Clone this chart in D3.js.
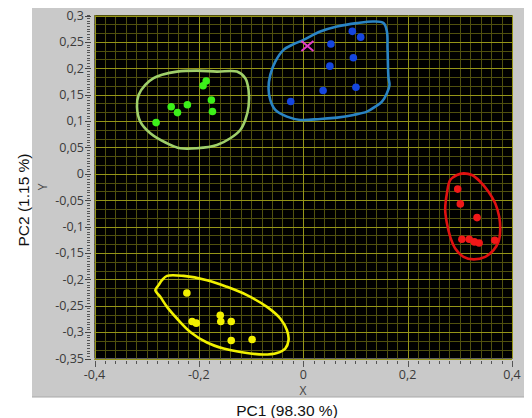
<!DOCTYPE html>
<html><head><meta charset="utf-8">
<script src="https://cdn.jsdelivr.net/npm/d3@7"></script>
<style>html,body{margin:0;padding:0;background:#fff;}svg{display:block;}</style>
</head><body>
<svg id="c" width="532" height="418"></svg>
<script>
// ---- data ----
const xTickValues = [-0.4, -0.2, 0, 0.2, 0.4];
const xTickLabels = ["-0,4", "-0,2", "0", "0,2", "0,4"];
const yTickValues = [0.3, 0.25, 0.2, 0.15, 0.1, 0.05, 0, -0.05, -0.1, -0.15, -0.2, -0.25, -0.3, -0.35];
const yTickLabels = ["0,3", "0,25", "0,2", "0,15", "0,1", "0,05", "0", "-0,05", "-0,1", "-0,15", "-0,2", "-0,25", "-0,3", "-0,35"];

const greenPC1 = [-0.282, -0.253, -0.241, -0.222, -0.192, -0.186, -0.176, -0.174];
const greenPC2 = [0.097, 0.127, 0.116, 0.131, 0.167, 0.176, 0.140, 0.118];
const bluePC1 = [0.094, 0.110, 0.053, 0.096, 0.051, 0.101, 0.038, -0.024];
const bluePC2 = [0.270, 0.259, 0.246, 0.220, 0.204, 0.164, 0.158, 0.137];
const redPC1 = [0.296, 0.301, 0.333, 0.304, 0.318, 0.328, 0.337, 0.367];
const redPC2 = [-0.029, -0.057, -0.083, -0.124, -0.124, -0.129, -0.131, -0.126];
const yellowPC1 = [-0.223, -0.213, -0.205, -0.159, -0.158, -0.138, -0.138, -0.098];
const yellowPC2 = [-0.226, -0.280, -0.283, -0.268, -0.280, -0.280, -0.316, -0.314];
const markerPC1 = [0.008];
const markerPC2 = [0.242];

const greenOutlinePC1 = [-0.2707, -0.2420, -0.2036, -0.1653, -0.1270, -0.1111, -0.1048, -0.1048, -0.1111, -0.1207, -0.1398, -0.1653, -0.2036, -0.2356, -0.2611, -0.2931, -0.3123, -0.3186, -0.3155, -0.3027, -0.2868];
const greenOutlinePC2 = [0.1875, 0.1937, 0.1956, 0.1937, 0.1937, 0.1812, 0.1590, 0.1273, 0.1021, 0.0831, 0.0674, 0.0546, 0.0484, 0.0484, 0.0579, 0.0769, 0.0989, 0.1273, 0.1495, 0.1685, 0.1812];
const blueOutlinePC1 = [0.0006, 0.0326, 0.0646, 0.1029, 0.1347, 0.1538, 0.1603, 0.1615, 0.1623, 0.1634, 0.1653, 0.1603, 0.1508, 0.1379, 0.1220, 0.0964, 0.0646, 0.0326, -0.0057, -0.0312, -0.0536, -0.0632, -0.0665, -0.0632, -0.0536, -0.0377, -0.0186];
const blueOutlinePC2 = [0.2539, 0.2696, 0.2791, 0.2856, 0.2886, 0.2856, 0.2696, 0.2381, 0.2065, 0.1812, 0.1685, 0.1528, 0.1368, 0.1273, 0.1178, 0.1116, 0.1065, 0.1040, 0.1021, 0.1083, 0.1211, 0.1400, 0.1622, 0.1875, 0.2127, 0.2349, 0.2457];
const redOutlinePC1 = [0.3071, 0.3232, 0.3391, 0.3550, 0.3678, 0.3755, 0.3774, 0.3741, 0.3646, 0.3487, 0.3262, 0.3071, 0.2912, 0.2816, 0.2753, 0.2720, 0.2753, 0.2816, 0.2945];
const redOutlinePC2 = [0.0009, -0.0023, -0.0150, -0.0340, -0.0560, -0.0814, -0.1066, -0.1288, -0.1446, -0.1573, -0.1622, -0.1573, -0.1414, -0.1194, -0.0939, -0.0687, -0.0370, -0.0118, -0.0023];
const yellowOutlinePC1 = [-0.2611, -0.2293, -0.1845, -0.1462, -0.1079, -0.0695, -0.0441, -0.0312, -0.0282, -0.0345, -0.0504, -0.0761, -0.1144, -0.1527, -0.1845, -0.2165, -0.2420, -0.2611, -0.2739, -0.2835, -0.2772, -0.2707];
const yellowOutlinePC2 = [-0.1934, -0.1934, -0.2015, -0.2142, -0.2300, -0.2522, -0.2742, -0.2964, -0.3154, -0.3311, -0.3395, -0.3425, -0.3387, -0.3311, -0.3197, -0.2996, -0.2742, -0.2522, -0.2332, -0.2205, -0.2110, -0.2015];

// ---- layout ----
const svg = d3.select("#c");
const plot = {left: 94.5, right: 512, top: 15.5, bottom: 358.5};
const x = d3.scaleLinear().domain([-0.4, 0.4]).range([plot.left, plot.right]);
const y = d3.scaleLinear().domain([-0.35, 0.3]).range([plot.bottom, plot.top]);
const font = "'Open Sans', 'Noto Sans', sans-serif";

// panel
svg.append("rect").attr("x", 32).attr("y", 8).attr("width", 492).attr("height", 389).attr("fill", "#c9c9c9");
svg.append("line").attr("x1", 32).attr("x2", 524).attr("y1", 397).attr("y2", 397).attr("stroke", "#a8a8a8");
// plot bg
svg.append("rect").attr("x", plot.left).attr("y", plot.top).attr("width", plot.right - plot.left).attr("height", plot.bottom - plot.top).attr("fill", "#000");

const g = svg.append("g");
const snap = v => Math.round(v) + 0.5;
const minorC = "#50500e", majorC = "#959518";
// vertical grid: minor each 0.02, major each 0.2
d3.range(0, 41).forEach(i => {
  const v = -0.4 + i * 0.02;
  g.append("line").attr("x1", snap(x(v))).attr("x2", snap(x(v))).attr("y1", plot.top).attr("y2", plot.bottom)
    .attr("stroke", minorC).attr("stroke-width", 1);
});
// horizontal grid: minor each 0.05/3
d3.range(0, 40).forEach(i => {
  const v = -0.35 + i * 0.05 / 3;
  g.append("line").attr("y1", snap(y(v))).attr("y2", snap(y(v))).attr("x1", plot.left).attr("x2", plot.right)
    .attr("stroke", minorC).attr("stroke-width", 1);
});
// major lines on top
xTickValues.forEach(v => {
  g.append("line").attr("x1", snap(x(v))).attr("x2", snap(x(v))).attr("y1", plot.top).attr("y2", plot.bottom).attr("stroke", majorC);
});
yTickValues.forEach(v => {
  g.append("line").attr("y1", snap(y(v))).attr("y2", snap(y(v))).attr("x1", plot.left).attr("x2", plot.right).attr("stroke", majorC);
});

// y axis ticks
const yAxisG = svg.append("g");
d3.range(0, 131).forEach(i => {
  const v = -0.35 + i * 0.005;
  yAxisG.append("line").attr("x1", 87).attr("x2", 90).attr("y1", snap(y(v))).attr("y2", snap(y(v))).attr("stroke", "#555");
});
yTickValues.forEach((v, i) => {
  yAxisG.append("line").attr("x1", 85).attr("x2", 91).attr("y1", snap(y(v))).attr("y2", snap(y(v))).attr("stroke", "#444");
  yAxisG.append("text").attr("x", 84).attr("y", y(v)).attr("dy", "0.35em").attr("text-anchor", "end")
    .attr("font-family", font).attr("font-size", 12.5).attr("fill", "#3a3a3a").text(yTickLabels[i]);
});
// x axis ticks
const xAxisG = svg.append("g");
d3.range(0, 41).forEach(i => {
  const v = -0.4 + i * 0.02;
  const major = i % 10 === 0;
  xAxisG.append("line").attr("x1", snap(x(v))).attr("x2", snap(x(v))).attr("y1", 361).attr("y2", major ? 367 : 364).attr("stroke", "#555");
});
xTickValues.forEach((v, i) => {
  xAxisG.append("text").attr("x", x(v)).attr("y", 379).attr("text-anchor", "middle")
    .attr("font-family", font).attr("font-size", 12.5).attr("fill", "#3a3a3a").text(xTickLabels[i]);
});
svg.append("text").attr("x", 303).attr("y", 395).attr("text-anchor", "middle").attr("font-family", font).attr("font-size", 12).attr("fill", "#444").text("X");
svg.append("text").attr("transform", "translate(47,187) rotate(-90)").attr("text-anchor", "middle").attr("font-family", font).attr("font-size", 12).attr("fill", "#444").text("Y");

svg.append("text").attr("x", 287).attr("y", 416).attr("text-anchor", "middle").attr("font-family", "'Liberation Sans', Arial, sans-serif").attr("font-size", 15.5).attr("fill", "#111").text("PC1 (98.30 %)");
svg.append("text").attr("transform", "translate(29,200) rotate(-90)").attr("text-anchor", "middle").attr("font-family", "'Liberation Sans', Arial, sans-serif").attr("font-size", 15.5).attr("fill", "#111").text("PC2 (1.15 %)");

// clip
svg.append("clipPath").attr("id", "clip").append("rect").attr("x", plot.left).attr("y", plot.top).attr("width", plot.right - plot.left).attr("height", plot.bottom - plot.top);
const marks = svg.append("g").attr("clip-path", "url(#clip)");

const line = d3.line().x(d => x(d[0])).y(d => y(d[1])).curve(d3.curveCatmullRomClosed.alpha(0.5));
const outlines = [
  [greenOutlinePC1, greenOutlinePC2, "#9fcf6a"],
  [blueOutlinePC1, blueOutlinePC2, "#2a84c4"],
  [redOutlinePC1, redOutlinePC2, "#e01010"],
  [yellowOutlinePC1, yellowOutlinePC2, "#f0f000"]
];
outlines.forEach(([xs, ys, c]) => {
  marks.append("path").attr("d", line(d3.zip(xs, ys))).attr("fill", "none").attr("stroke", c).attr("stroke-width", 2.6).attr("stroke-linejoin", "round");
});

const groups = [
  [greenPC1, greenPC2, "#3cf01a"],
  [bluePC1, bluePC2, "#1546e0"],
  [redPC1, redPC2, "#f01818"],
  [yellowPC1, yellowPC2, "#f2f000"]
];
groups.forEach(([xs, ys, c]) => {
  marks.selectAll(null).data(d3.zip(xs, ys)).enter().append("circle")
    .attr("cx", d => x(d[0])).attr("cy", d => y(d[1])).attr("r", 3.8).attr("fill", c);
});

// magenta X marker
d3.zip(markerPC1, markerPC2).forEach(d => {
  const cx = x(d[0]), cy = y(d[1]);
  marks.append("path").attr("d", `M${cx-6},${cy-5}L${cx+6},${cy+5}M${cx-6},${cy+5}L${cx+6},${cy-5}`)
    .attr("stroke", "#e23cc8").attr("stroke-width", 2).attr("fill", "none");
});
</script>
</body></html>
